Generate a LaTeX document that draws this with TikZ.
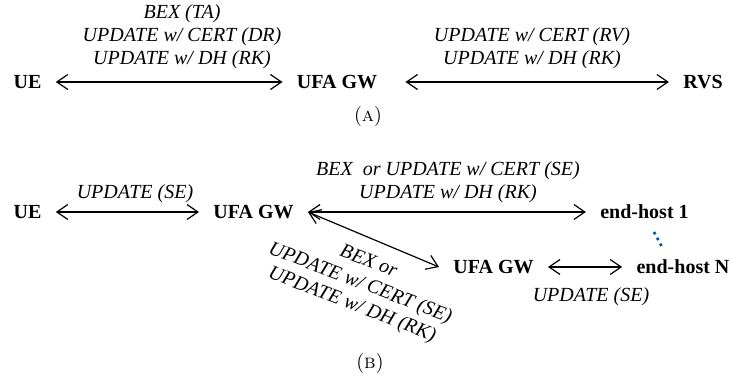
\documentclass[tikz,border=0pt]{standalone}
\usepackage{fontspec}
\newfontfamily\timesfont{Liberation Serif}
\usepackage{tikz}
\usetikzlibrary{arrows.meta,calc}

\begin{document}
\begin{tikzpicture}[
    x=0.5pt,y=-0.5pt,
    >={Straight Barb[length=5.5pt,width=7.5pt]},
    entity/.style={font=\timesfont\bfseries\fontsize{10}{12}\selectfont,
        inner xsep=7pt,inner ysep=2pt},
    msg/.style={font=\timesfont\itshape\fontsize{10}{11.5}\selectfont,align=center,inner sep=0pt},
    link/.style={line width=0.6pt,<->},
    subcap/.style={font=\fontsize{10}{12}\selectfont},
    hostdots/.style={draw=blue!55!cyan!70!black,line width=1.3pt,dotted}]
\useasboundingbox (0,0) rectangle (730,384);
% (a) UE - UFA GW - RVS
\node[entity] (ueA) at (27.5,82) {UE};
\node[entity] (gwA) at (337,82) {UFA GW};
\node[entity] (rvs) at (703,82) {RVS};
\draw[link] (ueA) -- (gwA);
\draw[link,shorten <=7pt] (gwA) -- (rvs);
\node[msg] (msgA1) at (182,37) {BEX (TA)\\UPDATE w/ CERT (DR)\\UPDATE w/ DH (RK)};
\node[msg] (msgA2) at (532,48) {UPDATE w/ CERT (RV)\\UPDATE w/ DH (RK)};
\node[subcap] (capA) at (368,117) {(\textsc{a})};
% (b) UE - UFA GW - end-hosts
\node[entity] (ueB) at (27.5,212) {UE};
\node[entity] (gwB) at (253.5,212) {UFA GW};
\node[entity] (eh1) at (644.5,212) {end-host 1};
\node[entity] (gwC) at (493.5,267) {UFA GW};
\node[entity] (ehN) at (683,267) {end-host N};
\draw[link] (ueB) -- (gwB);
\draw[link] (gwB) -- (eh1);
\draw[link] (gwB.east) -- (gwC.west);
\draw[link] (gwC) -- (ehN);
\draw[hostdots] ($(eh1)+(9.5,20)$) -- ($(ehN)+(-20,-18)$);
\node[msg] (msgB1) at (135,194) {UPDATE (SE)};
\node[msg] (msgB2) at (448,182) {BEX~ or UPDATE w/ CERT (SE)\\UPDATE w/ DH (RK)};
\node[msg,rotate=-21] (msgB3) at (360,284) {BEX or\\UPDATE w/ CERT (SE)\\UPDATE w/ DH (RK)};
\node[msg] (msgB4) at (591,297) {UPDATE (SE)};
\node[subcap] (capB) at (370,364) {(\textsc{b})};
\end{tikzpicture}
\end{document}
